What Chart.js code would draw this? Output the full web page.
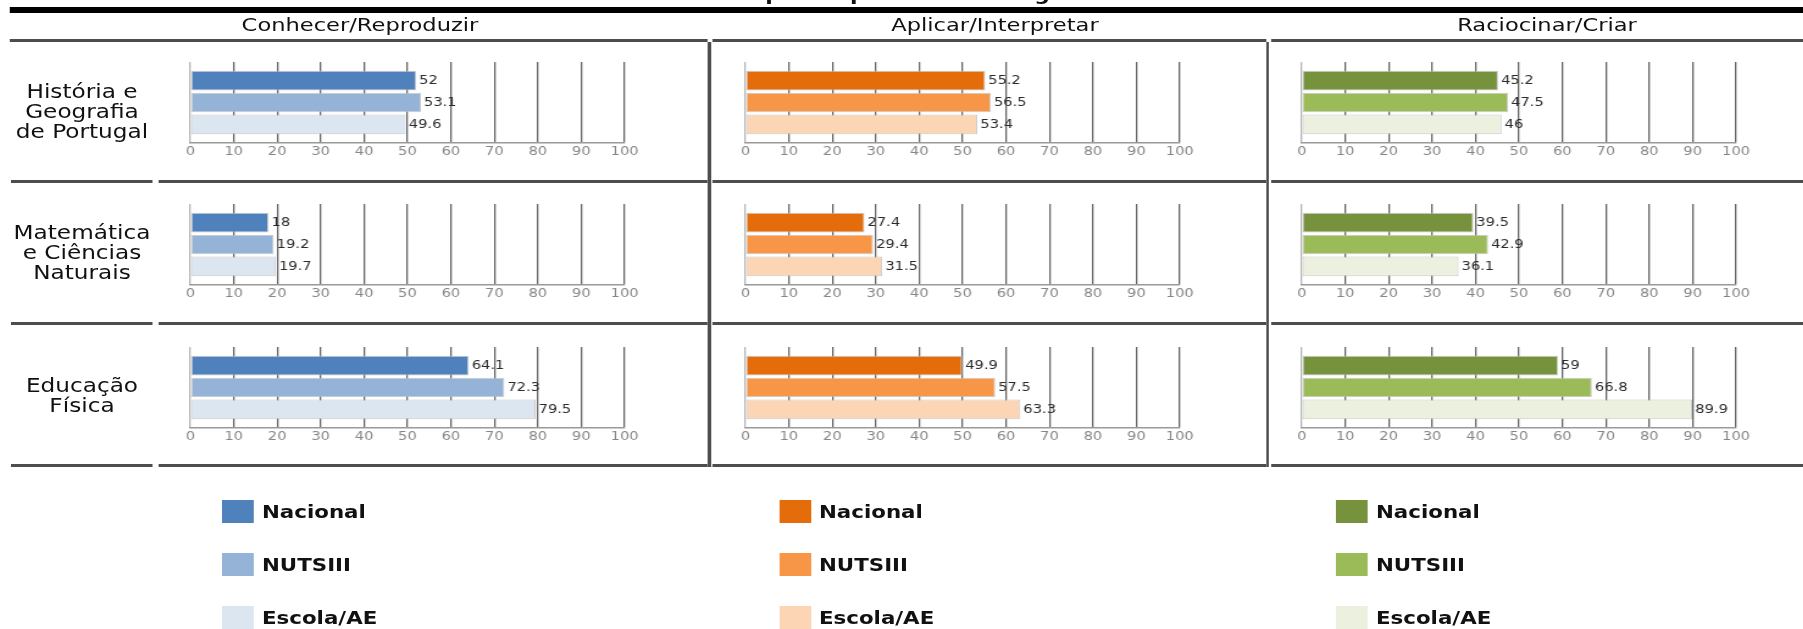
<!DOCTYPE html>
<html lang="pt">
<head>
<meta charset="utf-8">
<title>Desempenho por domínio cognitivo</title>
<script src="https://cdn.jsdelivr.net/npm/chart.js@4.4.1/dist/chart.umd.min.js"></script>
<style>
  html, body { margin: 0; padding: 0; background: #fff; overflow: hidden; }
  body { width: 1803px; height: 629px; position: relative; }
  /* the source picture is stretched sideways, so the whole page is too */
  #page {
    position: absolute; left: 0; top: 0; width: 1478px; height: 629px;
    transform: scaleX(1.22); transform-origin: 0 0;
    font-family: "DejaVu Sans", sans-serif; color: #111;
  }
  .abs { position: absolute; }
  .centered { position: absolute; white-space: nowrap; text-align: center; transform: translate(-50%, -50%); }
  .title { font-size: 18px; font-weight: bold; line-height: 20px; }
  .hdr { font-size: 18.5px; line-height: 22px; }
  .subj { font-size: 19px; line-height: 20px; }
  .leg { position: absolute; white-space: nowrap; font-size: 17.5px; font-weight: bold; line-height: 20px; transform: translateY(-50%); }
  canvas { position: absolute; }
</style>
</head>
<body>
<div id="page"></div>
<script>
const domains = ["Conhecer/Reproduzir", "Aplicar/Interpretar", "Raciocinar/Criar"];
const subjects = [
  ["História e", "Geografia", "de Portugal"],
  ["Matemática", "e Ciências", "Naturais"],
  ["Educação", "Física"]
];
const seriesNames = ["Nacional", "NUTSIII", "Escola/AE"];
const xTicks = [0, 10, 20, 30, 40, 50, 60, 70, 80, 90, 100];

// values per subject (HGP, Mat/CN, EF)
const conhecerNacional = [52, 18, 64.1];
const conhecerNuts = [53.1, 19.2, 72.3];
const conhecerEscola = [49.6, 19.7, 79.5];
const aplicarNacional = [55.2, 27.4, 49.9];
const aplicarNuts = [56.5, 29.4, 57.5];
const aplicarEscola = [53.4, 31.5, 63.3];
const raciocinarNacional = [45.2, 39.5, 59];
const raciocinarNuts = [47.5, 42.9, 66.8];
const raciocinarEscola = [46, 36.1, 89.9];

const values = [
  [conhecerNacional, conhecerNuts, conhecerEscola],
  [aplicarNacional, aplicarNuts, aplicarEscola],
  [raciocinarNacional, raciocinarNuts, raciocinarEscola]
];
const palettes = [
  ["#4F81BD", "#95B3D7", "#DCE6F1"],
  ["#E46C0A", "#F79646", "#FCD5B4"],
  ["#76923C", "#9BBB59", "#EBF1DE"]
];

const S = 1.22;
const page = document.getElementById("page");
Chart.defaults.font.family = '"DejaVu Sans", sans-serif';

// x and w are given in final (stretched) pixels
function box(x, y, w, h, color) {
  const d = document.createElement("div");
  d.className = "abs";
  d.style.left = x / S + "px";
  d.style.top = y + "px";
  d.style.width = w / S + "px";
  d.style.height = h + "px";
  d.style.background = color;
  page.appendChild(d);
  return d;
}
function label(html, cx, cy, cls) {
  const d = document.createElement("div");
  d.className = "centered " + cls;
  d.style.left = cx / S + "px";
  d.style.top = cy + "px";
  d.innerHTML = html;
  page.appendChild(d);
}

// frame
label("Desempenho por domínio cognitivo", 901, -6, "title");
box(10, 7, 1793, 6, "#000");
box(10, 39, 698, 3, "#4d4d4d");
box(713, 39, 553, 3, "#4d4d4d");
box(1271, 39, 532, 3, "#4d4d4d");
[180, 322, 464].forEach(y => {
  box(11, y, 142, 3, "#4d4d4d");
  box(158, y, 550, 3, "#4d4d4d");
  box(713, y, 553, 3, "#4d4d4d");
  box(1271, y, 532, 3, "#4d4d4d");
});
box(708, 42, 3, 425, "#4d4d4d");
box(1266, 42, 3, 425, "#4d4d4d");

const headerX = [360, 995, 1547];
domains.forEach((d, p) => label(d, headerX[p], 25, "hdr"));

const rowMid = [111, 252, 395];
subjects.forEach((lines, r) => label(lines.join("<br>"), 82, rowMid[r], "subj"));

// value written at the end of each bar
const valueLabels = {
  id: "valueLabels",
  afterDatasetsDraw(chart) {
    const ctx = chart.ctx;
    ctx.save();
    ctx.font = '12px "DejaVu Sans", sans-serif';
    ctx.fillStyle = "#2b2b2b";
    ctx.textBaseline = "middle";
    chart.data.datasets.forEach((ds, i) => {
      chart.getDatasetMeta(i).data.forEach((bar, j) => {
        ctx.fillText(String(ds.data[j]), bar.x + 2.5, bar.y + 0.5);
      });
    });
    ctx.restore();
  }
};

const plotLeft = [190, 746, 1302];
const padL = 10, padR = 40, padT = 10, padB = 4, axisH = 22;

for (let p = 0; p < 3; p++) {
  for (let r = 0; r < 3; r++) {
    const canvas = document.createElement("canvas");
    canvas.width = 406;
    canvas.height = 117;
    canvas.style.left = (plotLeft[p] / S - padL) + "px";
    canvas.style.top = (61.5 + r * 142.5 - padT) + "px";
    page.appendChild(canvas);

    new Chart(canvas, {
      type: "bar",
      data: {
        labels: [subjects[r].join(" ")],
        datasets: seriesNames.map((name, k) => ({
          label: name,
          data: [values[p][k][r]],
          backgroundColor: palettes[p][k],
          borderColor: "rgba(195,195,195,0.9)",
          borderWidth: 1,
          borderSkipped: false,
          categoryPercentage: 0.81,
          barPercentage: 0.9
        }))
      },
      options: {
        indexAxis: "y",
        responsive: false,
        animation: false,
        layout: { padding: { left: padL, right: padR, top: padT, bottom: padB } },
        plugins: { legend: { display: false }, tooltip: { enabled: false } },
        scales: {
          y: { display: false },
          x: {
            min: xTicks[0],
            max: xTicks[xTicks.length - 1],
            ticks: {
              stepSize: xTicks[1] - xTicks[0],
              color: "#868686",
              font: { size: 12 },
              padding: 2
            },
            grid: {
              drawTicks: false,
              lineWidth: 1.3,
              color: c => (c.index === 0 ? "#b5b5b5" : "#666666")
            },
            border: { color: "#9a9a9a", width: 1.5 },
            afterFit: s => {
              s.height = axisH;
              s.paddingLeft = 0;
              s.paddingRight = 0;
            }
          }
        }
      },
      plugins: [valueLabels]
    });
  }
}

// legends under each column
const legendX = [222, 779, 1336];
const legendY = [512, 565, 618];
for (let p = 0; p < 3; p++) {
  seriesNames.forEach((name, k) => {
    box(legendX[p], legendY[k] - 12, 32, 23, palettes[p][k]);
    const t = document.createElement("div");
    t.className = "leg";
    t.style.left = (legendX[p] + 40) / S + "px";
    t.style.top = legendY[k] + "px";
    t.textContent = name;
    page.appendChild(t);
  });
}
</script>
</body>
</html>
